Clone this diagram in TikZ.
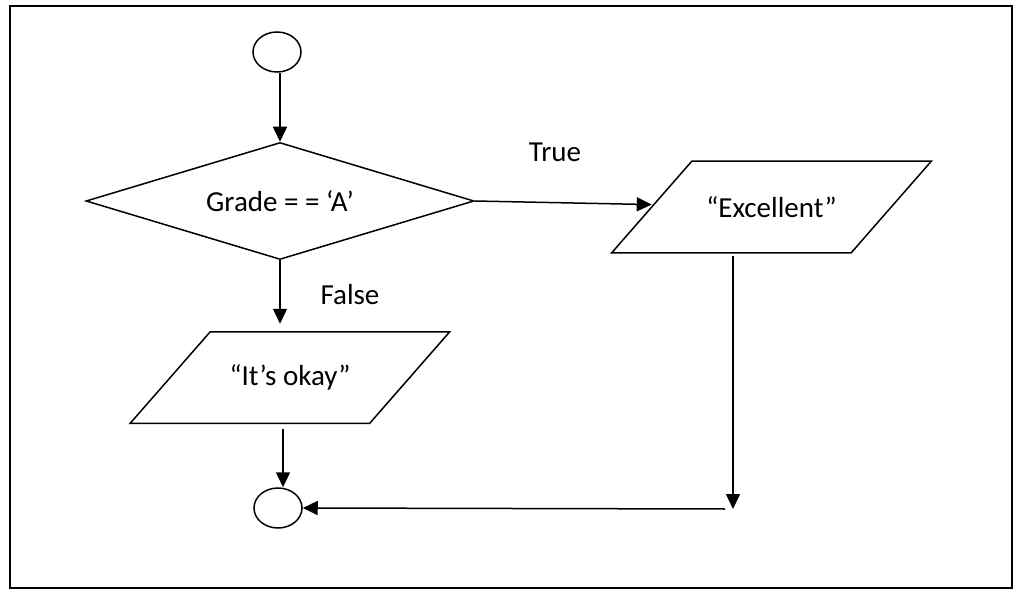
\documentclass[tikz,border=0pt]{standalone}
\usepackage{fontspec}
\setmainfont{Carlito}
\usetikzlibrary{shapes.geometric,arrows.meta}
\begin{document}
\begin{tikzpicture}[x=1pt,y=-1pt,
  line width=1.5pt,
  txt/.style={font=\fontsize{29}{33}\selectfont},
  term/.style={ellipse, draw, minimum width=48pt, minimum height=40pt, inner sep=0pt},
  decision/.style={diamond, draw, txt, aspect=3.3, minimum width=388pt, minimum height=117pt, inner sep=0pt},
  % body of an input/output box; its slanted outline is drawn below
  io/.style={rectangle, txt, minimum width=238pt, minimum height=90pt, inner sep=0pt},
  lbl/.style={txt, inner sep=0pt},
  arr/.style={-{Triangle[length=15pt,width=14pt]}}]
  \useasboundingbox (0,0) rectangle (1015,591);
  % outer frame
  \draw[line width=2pt] (10,6) rectangle (1012,588);

  % flowchart nodes
  \node[term] (start) at (277,52) {};
  \node[decision] (dec) at (280,201) {Grade = = ‘A’};
  \node[io] (exc) at (771.5,207) {“Excellent”};
  \node[io] (okay) at (290,377.5) {“It’s okay”};
  \node[term] (endc) at (278,508) {};
  \coordinate (corner) at (733,509);

  % parallelogram outlines of the input/output boxes
  \foreach \n in {exc,okay}
    \draw ([xshift=-40pt]\n.south west) -- ([xshift=40pt]\n.north west)
       -- ([xshift=40pt]\n.north east) -- ([xshift=-40pt]\n.south east) -- cycle;

  % branch labels
  \node[lbl] (truelbl) at (555,152) {True};
  \node[lbl] (falselbl) at (350,295) {False};

  % connectors
  \draw[arr] (start.south -| dec.north) -- (dec.north);
  \draw[arr] (dec.east) -- (exc);
  \draw[arr, shorten >=8pt] (dec.south) -- (dec.south |- okay.north);
  \draw[arr, shorten <=6pt] ([xshift=5pt]endc.north |- okay.south) -- ([xshift=5pt]endc.north);
  \draw[arr, shorten <=3pt] (exc.south -| corner) -- (corner);
  \draw[arr] ([xshift=-8pt]corner) -- (endc.east);
\end{tikzpicture}
\end{document}
